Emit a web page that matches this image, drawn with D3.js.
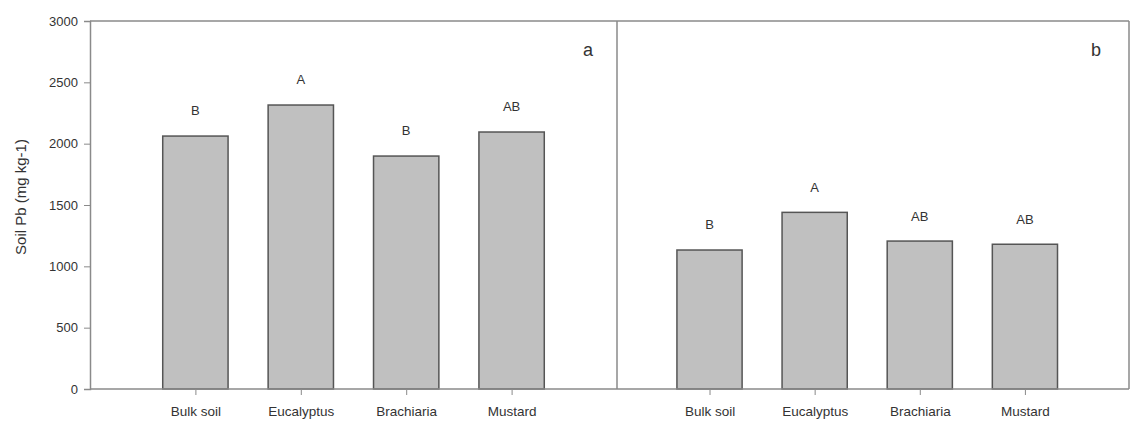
<!DOCTYPE html>
<html>
<head>
<meta charset="utf-8">
<script src="https://cdn.jsdelivr.net/npm/d3@7"></script>
<style>
  html, body { margin: 0; padding: 0; background: #fff; }
  svg { display: block; font-family: "Liberation Sans", Arial, sans-serif; }
</style>
</head>
<body>
<svg id="chart" width="1131" height="430"></svg>
<script>
// Soil Pb concentrations by treatment, two panels (a, b)
const categories = ["Bulk soil", "Eucalyptus", "Brachiaria", "Mustard"];
const valuesA = [2062, 2315, 1899, 2095];
const valuesB = [1133, 1440, 1206, 1180];
const lettersA = ["B", "A", "B", "AB"];
const lettersB = ["B", "A", "AB", "AB"];
const yTicks = [0, 500, 1000, 1500, 2000, 2500, 3000];
const panelLabels = ["a", "b"];

const svg = d3.select("#chart");
const plotTop = 21, plotBottom = 389;
const xLeft = 90, xMid = 617, xRight = 1129;

const y = d3.scaleLinear().domain([0, 3000]).range([plotBottom, plotTop]);

// Each panel places the four treatments at positions 1..4
const xA = d3.scaleLinear().domain([0, 5]).range([xLeft, xMid]);
const xB = d3.scaleLinear().domain([0.12, 4.99]).range([xMid, xRight]);
const barWidth = 0.62;

const axisColor = "#8a8a8a";
const textColor = "#333";

// Frame: top line, divider, right edge
svg.append("line").attr("x1", xLeft).attr("x2", xRight).attr("y1", plotTop).attr("y2", plotTop)
  .attr("stroke", axisColor).attr("stroke-width", 1.5);
svg.append("line").attr("x1", xMid).attr("x2", xMid).attr("y1", plotTop).attr("y2", plotBottom)
  .attr("stroke", axisColor).attr("stroke-width", 1.5);
svg.append("line").attr("x1", xRight).attr("x2", xRight).attr("y1", plotTop).attr("y2", plotBottom)
  .attr("stroke", axisColor).attr("stroke-width", 1.5);

// Y axis
const yAxis = svg.append("g").attr("transform", `translate(${xLeft},0)`)
  .call(d3.axisLeft(y).tickValues(yTicks).tickSize(6).tickPadding(6).tickFormat(d3.format("d")));
yAxis.select(".domain").attr("stroke", axisColor).attr("stroke-width", 1.5);
yAxis.selectAll(".tick line").attr("stroke", axisColor);
yAxis.selectAll(".tick text").attr("fill", textColor).attr("font-size", 13)
  .attr("font-family", "Liberation Sans, Arial, sans-serif");

svg.append("text")
  .attr("transform", `translate(22,197) rotate(-90)`)
  .attr("text-anchor", "middle").attr("dominant-baseline", "middle")
  .attr("fill", textColor).attr("font-size", 15)
  .text("Soil Pb (mg kg-1)");

function drawPanel(x, values, letters, label, labelX) {
  const g = svg.append("g");
  const idx = categories.map((c, i) => i + 1);

  g.selectAll("rect").data(values).join("rect")
    .attr("x", (d, i) => x(idx[i] - barWidth / 2))
    .attr("width", (d, i) => x(idx[i] + barWidth / 2) - x(idx[i] - barWidth / 2))
    .attr("y", d => y(d))
    .attr("height", d => y(0) - y(d))
    .attr("fill", "#c0c0c0")
    .attr("stroke", "#555").attr("stroke-width", 1.5);

  g.selectAll("text.letter").data(values).join("text")
    .attr("class", "letter")
    .attr("x", (d, i) => x(idx[i]))
    .attr("y", d => y(d) - 24)
    .attr("text-anchor", "middle").attr("dominant-baseline", "middle")
    .attr("fill", textColor).attr("font-size", 13)
    .text((d, i) => letters[i]);

  // Bottom axis with ticks at bar centres
  const xAxis = g.append("g").attr("transform", `translate(0,${plotBottom})`)
    .call(d3.axisBottom(x).tickValues(idx).tickSize(6).tickPadding(11)
      .tickFormat((d, i) => categories[i]));
  xAxis.select(".domain").attr("stroke", axisColor).attr("stroke-width", 1.5)
    .attr("d", `M${x.range()[0]},0H${x.range()[1]}`);
  xAxis.selectAll(".tick line").attr("stroke", axisColor);
  xAxis.selectAll(".tick text").attr("fill", textColor).attr("font-size", 13.5)
    .attr("font-family", "Liberation Sans, Arial, sans-serif");

  g.append("text")
    .attr("x", labelX).attr("y", 51)
    .attr("text-anchor", "middle").attr("dominant-baseline", "middle")
    .attr("fill", textColor).attr("font-size", 18)
    .text(label);
}

drawPanel(xA, valuesA, lettersA, panelLabels[0], 588);
drawPanel(xB, valuesB, lettersB, panelLabels[1], 1096);
</script>
</body>
</html>
